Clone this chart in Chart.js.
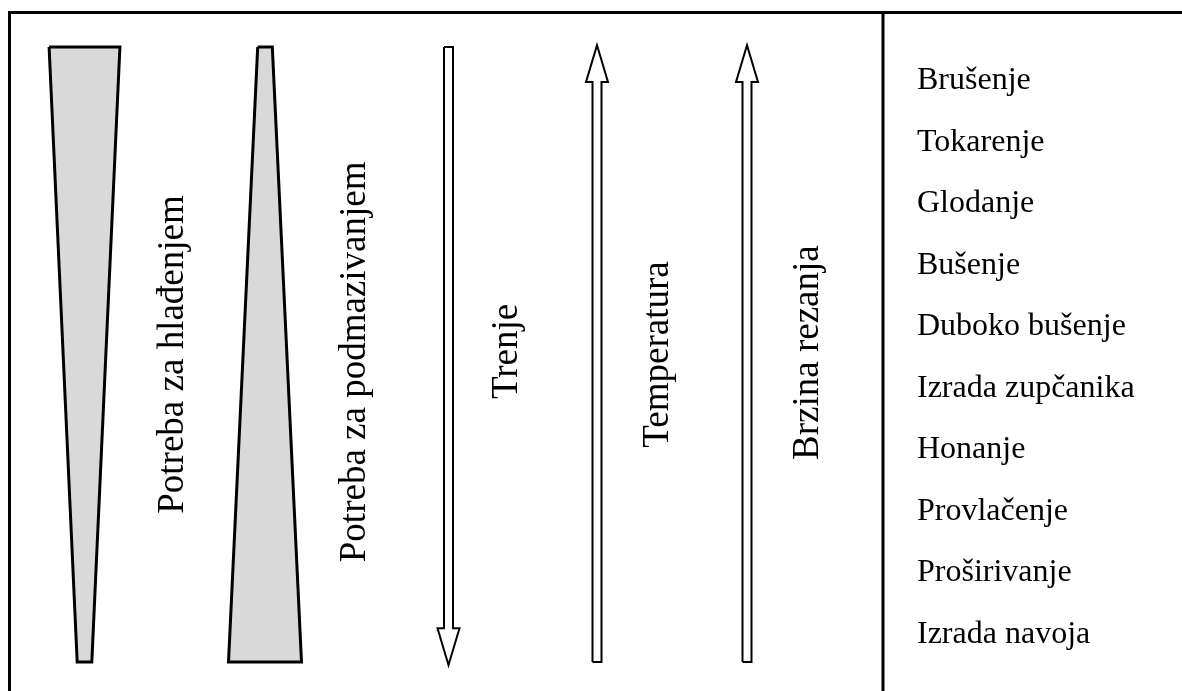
<!DOCTYPE html>
<html>
<head>
<meta charset="utf-8">
<title>Potreba za hlađenjem i podmazivanjem</title>
<script src="https://cdn.jsdelivr.net/npm/chart.js@4/dist/chart.umd.min.js"></script>
<style>
  html, body { margin: 0; padding: 0; background: #fff; }
  #wrap { position: relative; width: 1182px; height: 691px; }
</style>
</head>
<body>
<div id="wrap"><canvas id="chart"></canvas></div>
<script>
// ===== Data =====
const operations = [
  "Brušenje", "Tokarenje", "Glodanje", "Bušenje", "Duboko bušenje",
  "Izrada zupčanika", "Honanje", "Provlačenje", "Proširivanje", "Izrada navoja"
];
const wedgeLabels = ["Potreba za hlađenjem", "Potreba za podmazivanjem"];
const coolingNeed = [0.97, 0.2];      // relative need at first / last operation
const lubricationNeed = [0.2, 1.0];
const arrowLabels = ["Trenje", "Temperatura", "Brzina rezanja"];
const arrowTrend = [-1, 1, 1];        // -1 grows down the list, 1 grows up

// ===== Layout (x in px of the left panel, y in operation index) =====
const columnX = [84.5, 265, 448.5, 597, 747];
const labelX = [183, 365, 517, 668, 818];
const labelY = [4.5, 4.62, 4.45, 4.5, 4.47];
const WEDGE_MAX = 73;
const SHAFT = 4.5, HEAD = 11, HEAD_LEN = 0.6;
const FIRST = -0.5, LAST = 9.5;

function wedgeShape(cx, need) {
  const w0 = need[0] * WEDGE_MAX / 2, w1 = need[1] * WEDGE_MAX / 2;
  return [
    {x: cx - w0, y: FIRST}, {x: cx + w0, y: FIRST},
    {x: cx + w1, y: LAST}, {x: cx - w1, y: LAST},
    {x: cx - w0, y: FIRST}
  ];
}

function arrowShape(cx, dir) {
  const tail = dir < 0 ? FIRST : LAST;
  const tip = dir < 0 ? LAST + 0.05 : FIRST - 0.03;
  const base = tip + (dir < 0 ? -HEAD_LEN : HEAD_LEN);
  return [
    {x: cx - SHAFT, y: tail}, {x: cx + SHAFT, y: tail},
    {x: cx + SHAFT, y: base}, {x: cx + HEAD, y: base},
    {x: cx, y: tip},
    {x: cx - HEAD, y: base}, {x: cx - SHAFT, y: base},
    {x: cx - SHAFT, y: tail}
  ];
}

const shapeStyle = {
  borderColor: "#000", borderWidth: 3, borderJoinStyle: "miter",
  pointRadius: 0, tension: 0, fill: "shape", clip: false
};

const datasets = [
  {...shapeStyle, label: wedgeLabels[0], data: wedgeShape(columnX[0], coolingNeed), backgroundColor: "#d9d9d9"},
  {...shapeStyle, label: wedgeLabels[1], data: wedgeShape(columnX[1], lubricationNeed), backgroundColor: "#d9d9d9"}
];
arrowLabels.forEach((lab, i) => {
  datasets.push({...shapeStyle, label: lab, borderWidth: 2, data: arrowShape(columnX[i + 2], arrowTrend[i]), backgroundColor: "#fff"});
});

// ===== Frame and rotated labels =====
const framePlugin = {
  id: "frame",
  beforeDraw(chart) {
    const {ctx, width, height} = chart;
    const divider = chart.scales.y.left;
    ctx.save();
    ctx.fillStyle = "#fff";
    ctx.fillRect(0, 0, width, height);
    ctx.strokeStyle = "#000";
    ctx.lineWidth = 3;
    ctx.beginPath();
    ctx.moveTo(9.5, height); ctx.lineTo(9.5, 12.5); ctx.lineTo(width, 12.5);
    ctx.moveTo(divider, 12.5); ctx.lineTo(divider, height);
    ctx.stroke();
    ctx.restore();
  },
  afterDatasetsDraw(chart) {
    const {ctx} = chart;
    const xs = chart.scales.x, ys = chart.scales.y;
    const labels = [...wedgeLabels, ...arrowLabels];
    ctx.save();
    ctx.font = '37px "Liberation Serif", "Times New Roman", serif';
    ctx.fillStyle = "#000";
    ctx.textAlign = "center";
    ctx.textBaseline = "alphabetic";
    labels.forEach((lab, i) => {
      ctx.save();
      ctx.translate(xs.getPixelForValue(labelX[i]), ys.getPixelForValue(labelY[i]));
      ctx.rotate(-Math.PI / 2);
      ctx.fillText(lab, 0, 0);
      ctx.restore();
    });
    ctx.restore();
  }
};

new Chart(document.getElementById("chart"), {
  type: "line",
  data: { datasets },
  options: {
    responsive: true,
    maintainAspectRatio: false,
    animation: false,
    layout: { padding: { top: 47, bottom: 29, left: 0, right: 0 } },
    plugins: { legend: { display: false }, tooltip: { enabled: false } },
    scales: {
      x: { type: "linear", min: 0, max: 883, display: false },
      y: {
        type: "linear", position: "right", reverse: true, min: FIRST, max: LAST,
        afterFit(scale) {
          scale.width = 299;
          scale.paddingTop = 0;
          scale.paddingBottom = 0;
        },
        afterBuildTicks(scale) { scale.ticks = operations.map((_, i) => ({ value: i })); },
        grid: { display: false, drawTicks: false },
        border: { display: false },
        ticks: {
          padding: 34,
          labelOffset: 3,
          color: "#000",
          font: { family: '"Liberation Serif", "Times New Roman", serif', size: 32 },
          callback: (v) => operations[v]
        }
      }
    }
  },
  plugins: [framePlugin]
});
</script>
</body>
</html>
